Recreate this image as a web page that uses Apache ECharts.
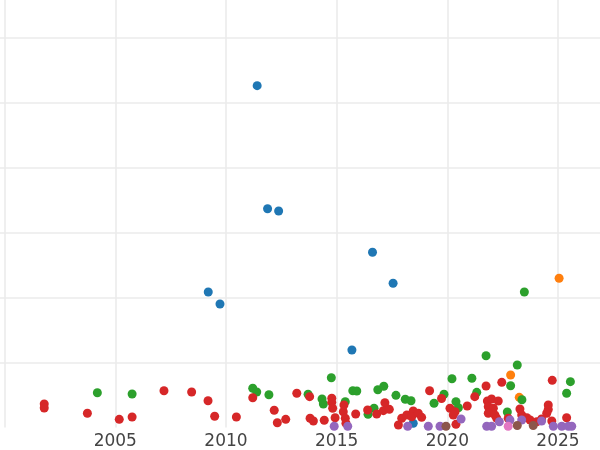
<!DOCTYPE html>
<html>
<head>
<meta charset="utf-8">
<script src="https://cdn.jsdelivr.net/npm/echarts@6/dist/echarts.min.js"></script>
<style>html,body{margin:0;padding:0;background:#fff}#c{width:600px;height:450px}</style>
</head>
<body>
<div id="c"></div>
<script>
// [year, value]
const blueData = [[2011.41,5.267],[2011.88,3.371],[2012.38,3.336],[2009.20,2.088],[2009.73,1.903],[2016.62,2.700],[2017.55,2.222],[2015.69,1.194],[2018.46,0.065]];
const orangeData = [[2025.05,2.299],[2022.86,0.809],[2023.25,0.465]];
const greenData = [[2023.48,2.088],[2021.75,1.106],[2023.16,0.963],[2004.19,0.536],[2005.76,0.516],[2011.21,0.604],[2011.39,0.547],[2011.94,0.505],[2013.71,0.512],[2014.34,0.439],[2014.40,0.362],[2014.76,0.767],[2015.39,0.398],[2015.73,0.567],[2015.91,0.562],[2016.42,0.203],[2016.69,0.296],[2016.86,0.582],[2017.13,0.635],[2017.68,0.496],[2018.10,0.435],[2018.36,0.413],[2019.40,0.373],[2019.85,0.512],[2020.21,0.752],[2020.39,0.398],[2020.50,0.305],[2021.11,0.758],[2021.33,0.542],[2022.86,0.644],[2023.37,0.428],[2022.71,0.239],[2025.56,0.706],[2025.39,0.527]];
const redData = [[2001.79,0.362],[2001.79,0.300],[2003.74,0.219],[2005.18,0.126],[2005.76,0.162],[2007.20,0.567],[2008.45,0.547],[2009.19,0.413],[2009.49,0.173],[2010.47,0.162],[2011.21,0.459],[2012.18,0.265],[2012.32,0.074],[2012.70,0.126],[2013.20,0.527],[2013.78,0.475],[2013.80,0.142],[2013.95,0.100],[2014.44,0.111],[2014.78,0.450],[2014.78,0.388],[2014.82,0.296],[2014.93,0.151],[2015.30,0.243],[2015.33,0.347],[2015.39,0.142],[2015.42,0.065],[2015.86,0.208],[2016.40,0.270],[2016.81,0.208],[2017.18,0.382],[2017.11,0.259],[2017.38,0.280],[2017.79,0.039],[2017.94,0.142],[2018.17,0.193],[2018.46,0.254],[2018.39,0.166],[2018.69,0.219],[2018.84,0.157],[2019.20,0.567],[2019.74,0.447],[2020.12,0.296],[2020.35,0.243],[2020.27,0.193],[2020.39,0.049],[2020.90,0.331],[2021.24,0.475],[2021.75,0.639],[2021.81,0.408],[2022.00,0.439],[2022.30,0.408],[2021.85,0.320],[2022.08,0.296],[2021.85,0.219],[2022.15,0.193],[2022.23,0.142],[2022.46,0.696],[2022.75,0.142],[2023.28,0.285],[2023.36,0.193],[2023.59,0.151],[2023.74,0.116],[2024.04,0.089],[2024.26,0.131],[2024.56,0.347],[2024.56,0.277],[2024.49,0.219],[2024.72,0.100],[2024.74,0.727],[2025.39,0.151]];
const purpleData = [[2014.89,0.02],[2015.50,0.02],[2018.21,0.02],[2019.14,0.02],[2019.67,0.02],[2020.62,0.131],[2021.78,0.02],[2022.00,0.02],[2022.35,0.089],[2022.83,0.116],[2023.36,0.116],[2024.26,0.100],[2024.79,0.02],[2025.17,0.02],[2025.47,0.02],[2025.62,0.02]];
const brownData = [[2019.94,0.02],[2023.16,0.03],[2023.88,0.03]];
const pinkData = [[2022.75,0.02]];
const xTickLabels = ['2005','2010','2015','2020','2025'];

const colors = ['#1f77b4','#ff7f0e','#2ca02c','#d62728','#9467bd','#8c564b','#e377c2'];
const allSeries = [blueData, orangeData, greenData, redData, purpleData, brownData, pinkData];

const chart = echarts.init(document.getElementById('c'), null, {renderer:'canvas'});
chart.setOption({
  animation: false,
  backgroundColor: '#ffffff',
  grid: {left: -106.08, right: -68.68, top: -26.8, bottom: 22.5, containLabel: false, outerBoundsMode: 'none'},
  xAxis: {
    type: 'value', min: 1995, max: 2030, interval: 5,
    axisLine: {show: false}, axisTick: {show: false},
    axisLabel: {
      margin: 6, fontSize: 17, color: '#444', fontFamily: 'DejaVu Sans',
      formatter: function (v) { const s = String(Math.round(v)); return xTickLabels.indexOf(s) >= 0 ? s : ''; }
    },
    splitLine: {show: true, lineStyle: {color: '#ebebeb', width: 1.6}}
  },
  yAxis: {
    type: 'value', min: 0, max: 7, interval: 1,
    axisLine: {show: false}, axisTick: {show: false}, axisLabel: {show: false},
    splitLine: {show: true, showMinLine: false, lineStyle: {color: '#ebebeb', width: 1.6}}
  },
  series: allSeries.map(function (d, i) {
    return {type: 'scatter', data: d, symbolSize: 9, clip: true,
      itemStyle: {color: colors[i], opacity: 1}};
  })
});
</script>
</body>
</html>
